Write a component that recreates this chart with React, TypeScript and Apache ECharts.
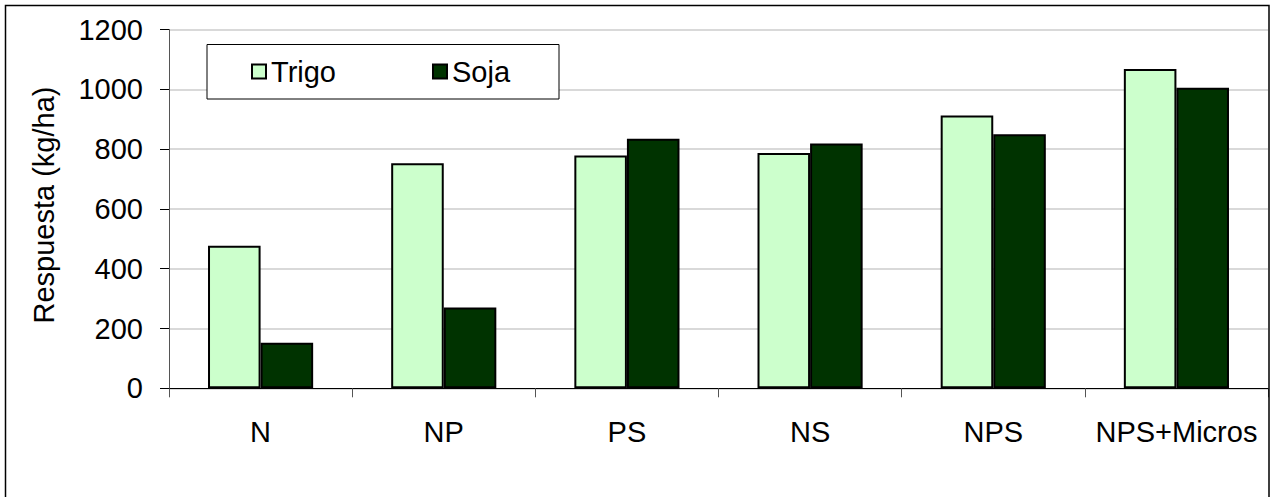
import React, { useEffect, useRef } from "react";
import * as echarts from "echarts";

const categories = ["N", "NP", "PS", "NS", "NPS", "NPS+Micros"];
const trigo = [477, 753, 779, 787, 912, 1068];
const soja = [152, 270, 835, 819, 850, 1005];
const yTicks = { min: 0, max: 1200, interval: 200 };
const seriesNames = ["Trigo", "Soja"];
const yTitle = "Respuesta (kg/ha)";

const FONT = "Liberation Sans, Arial, sans-serif";
const FS = 29;

export default function App() {
  const ref = useRef<HTMLDivElement>(null);
  useEffect(() => {
    document.body.style.margin = "0";
    const chart = echarts.init(ref.current!, null, { renderer: "svg" });
    chart.setOption({
      animation: false,
      backgroundColor: "#ffffff",
      textStyle: { fontFamily: FONT },
      grid: { left: 169, right: 3, top: 29.5, bottom: 108.7, containLabel: false },
      legend: {
        left: 251,
        top: 57,
        padding: 0,
        itemWidth: 14,
        itemHeight: 14,
        itemGap: 96,
        icon: "rect",
        textStyle: { fontSize: FS, color: "#000", fontFamily: FONT },
        data: seriesNames,
        z: 10,
      },
      xAxis: {
        type: "category",
        data: categories,
        axisLine: { lineStyle: { color: "#000", width: 1 } },
        axisTick: { show: true, interval: 0, length: 9, lineStyle: { color: "#555" } },
        axisLabel: { interval: 0, fontSize: FS, color: "#000", margin: 29, fontFamily: FONT },
        splitLine: { show: false },
      },
      yAxis: {
        type: "value",
        min: yTicks.min,
        max: yTicks.max,
        interval: yTicks.interval,
        axisLine: { show: true, lineStyle: { color: "#555", width: 1 } },
        axisTick: { show: true, length: 9, lineStyle: { color: "#000" } },
        axisLabel: {
          fontSize: FS,
          color: "#000",
          margin: 26,
          fontFamily: FONT,
          formatter: (v: number) => String(v),
        },
        splitLine: { show: true, lineStyle: { color: "#cccccc", width: 1.5 } },
      },
      series: [
        {
          name: seriesNames[0],
          type: "bar",
          data: trigo,
          barGap: "0%",
          barCategoryGap: "42.6%",
          itemStyle: { color: "#ccffcc", borderColor: "#000", borderWidth: 2 },
        },
        {
          name: seriesNames[1],
          type: "bar",
          data: soja,
          barGap: "0%",
          barCategoryGap: "42.6%",
          itemStyle: { color: "#003300", borderColor: "#000", borderWidth: 2 },
        },
      ],
      graphic: [
        {
          type: "rect",
          shape: { x: 5.5, y: 5.5, width: 1263.5, height: 500 },
          style: { fill: "none", stroke: "#000", lineWidth: 1.5 },
          silent: true,
          z: 100,
        },
        {
          type: "rect",
          shape: { x: 207, y: 44.5, width: 352, height: 54.5 },
          style: { fill: "#fff", stroke: "#000", lineWidth: 1 },
          silent: true,
          z: 5,
        },
        {
          type: "text",
          x: 44,
          y: 205,
          rotation: Math.PI / 2,
          style: {
            text: yTitle,
            fontSize: FS,
            fontFamily: FONT,
            fill: "#000",
            align: "center",
            verticalAlign: "middle",
          },
          silent: true,
        },
      ],
    });
    return () => chart.dispose();
  }, []);
  return <div ref={ref} style={{ width: 1271, height: 497 }} />;
}
